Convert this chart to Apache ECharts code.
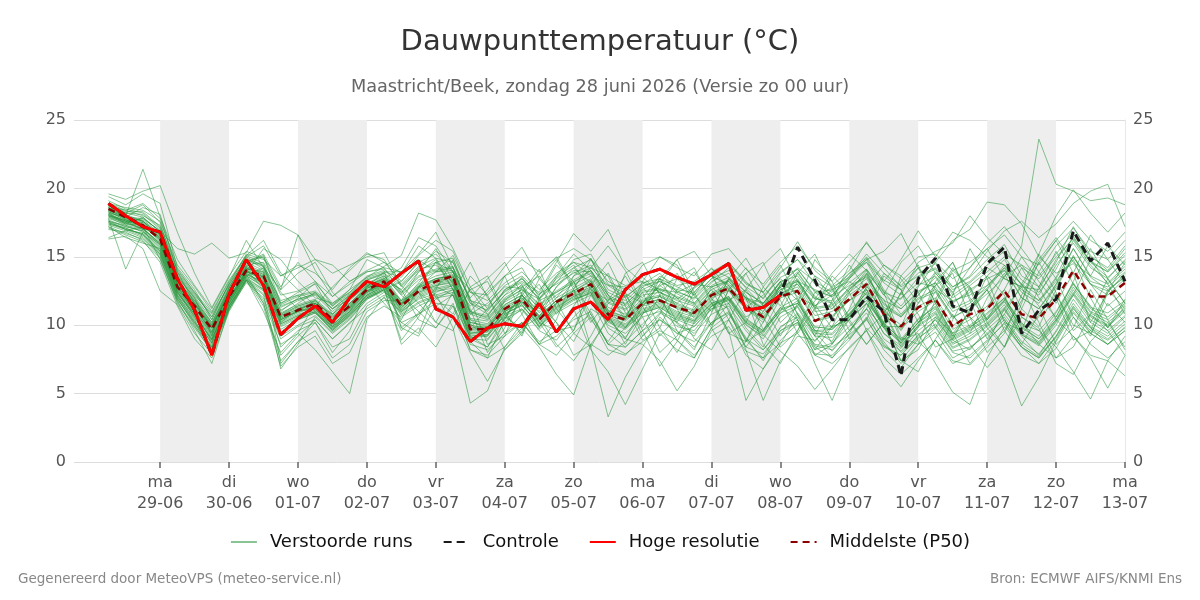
<!DOCTYPE html>
<html>
<head>
<meta charset="utf-8">
<title>Dauwpunttemperatuur</title>
<script src="https://cdn.jsdelivr.net/npm/echarts@6/dist/echarts.min.js"></script>
<style>
  html, body { margin: 0; padding: 0; background: #fff; }
  #chart { width: 1200px; height: 600px; }
</style>
</head>
<body>
<div id="chart"></div>
<script>
// day ticks at 00 uur, hours counted from ma 29-06 00:00
const dayLabels = ['ma\n29-06', 'di\n30-06', 'wo\n01-07', 'do\n02-07', 'vr\n03-07', 'za\n04-07', 'zo\n05-07',
  'ma\n06-07', 'di\n07-07', 'wo\n08-07', 'do\n09-07', 'vr\n10-07', 'za\n11-07', 'zo\n12-07', 'ma\n13-07'];
const shadedDays = [0, 2, 4, 6, 8, 10, 12];
const axisStartHour = -30;
const firstHour = -18;   // zo 28-06 06:00
const stepHours = 6;

const hiRes = [18.9, 18.0, 17.2, 16.8, 13.4, 11.1, 7.8, 12.3, 14.8, 12.9,
  9.3, 10.5, 11.4, 10.2, 12.0, 13.2, 12.8, 13.8, 14.7, 11.2,
  10.6, 8.8, 9.8, 10.1, 9.9, 11.6, 9.5, 11.2, 11.7, 10.4,
  12.6, 13.7, 14.1, 13.5, 13.0, 13.7, 14.5, 11.1, 11.3, 12.2];

const control = [18.9, 18.0, 17.2, 16.8, 13.4, 11.1, 7.8, 12.3, 14.8, 12.9,
  9.3, 10.5, 11.4, 10.2, 12.0, 13.2, 12.8, 13.8, 14.7, 11.2,
  10.6, 8.8, 9.8, 10.1, 9.9, 11.6, 9.5, 11.2, 11.7, 10.4,
  12.6, 13.7, 14.1, 13.5, 13.0, 13.7, 14.5, 11.1, 11.3, 12.2,
  15.7, 13.3, 10.4, 10.4, 12.1, 11.0, 6.3, 13.4, 14.9, 11.4,
  10.9, 14.5, 15.7, 9.4, 11.1, 11.9, 16.9, 14.7, 16.0, 13.2];

const median = [18.5, 17.9, 17.3, 16.3, 12.8, 11.4, 9.7, 12.1, 14.0, 13.6,
  10.6, 11.1, 11.6, 10.4, 11.4, 12.6, 13.2, 11.4, 12.5, 13.2,
  13.6, 9.7, 9.7, 11.2, 11.9, 10.4, 11.7, 12.3, 13.0, 10.8,
  10.4, 11.6, 11.8, 11.3, 10.9, 12.2, 12.7, 11.4, 10.6, 12.1,
  12.5, 10.3, 10.9, 11.9, 13.0, 10.8, 9.9, 11.3, 11.9, 9.9,
  10.8, 11.2, 12.5, 10.8, 10.5, 11.9, 14.0, 12.1, 12.1, 13.1];

const perturbed = [
  [18.9, 18.2, 18.8, 17.5, 13.5, 12.0, 9.2, 12.8, 14.6, 15.2, 12.8, 14.6, 13.2, 11.4, 12.6, 14.8, 14.2, 12.4, 13.9, 14.8, 12.6, 10.1, 9.0, 10.5, 12.2, 11.0, 12.8, 13.9, 13.2, 11.1, 9.8, 11.4, 12.9, 12.0, 10.5, 11.8, 13.4, 12.2, 9.7, 11.0, 13.2, 11.5, 9.8, 10.6, 12.8, 11.9, 8.9, 10.2, 12.5, 10.7, 9.4, 12.0, 13.8, 11.2, 9.9, 12.6, 15.1, 13.0, 11.4, 12.5],
  [17.6, 17.0, 16.5, 15.2, 12.1, 10.2, 8.5, 11.5, 13.6, 14.2, 11.8, 12.2, 11.0, 9.6, 10.8, 12.2, 12.9, 10.2, 9.4, 12.6, 14.8, 11.9, 8.6, 9.2, 12.4, 14.1, 11.2, 9.6, 12.9, 14.6, 12.0, 9.2, 10.8, 13.4, 14.2, 11.6, 9.4, 10.2, 12.8, 14.4, 11.9, 9.6, 8.8, 11.2, 13.8, 12.4, 9.1, 8.6, 11.9, 14.2, 12.6, 9.8, 8.4, 11.6, 15.2, 13.4, 10.6, 9.2, 12.4, 13.8],
  [19.4, 18.8, 19.6, 18.9, 14.2, 12.6, 10.4, 13.1, 15.2, 14.8, 13.6, 14.4, 13.8, 12.6, 14.2, 15.3, 14.6, 13.2, 14.6, 15.2, 13.9, 11.6, 10.8, 12.2, 13.5, 11.8, 12.4, 13.1, 14.0, 12.2, 11.5, 12.8, 13.4, 12.3, 11.6, 13.1, 14.2, 12.7, 11.4, 12.8, 13.9, 12.1, 11.2, 12.8, 14.1, 12.5, 10.8, 12.2, 13.5, 11.7, 12.4, 13.6, 14.8, 12.9, 11.8, 13.5, 16.2, 14.4, 13.1, 14.3],
  [16.4, 16.9, 17.2, 14.8, 11.8, 9.6, 7.2, 11.2, 13.4, 11.6, 7.4, 8.8, 9.6, 7.6, 8.6, 11.0, 11.8, 11.8, 13.9, 15.6, 13.2, 10.4, 9.6, 11.8, 13.0, 10.2, 8.4, 9.6, 12.2, 13.8, 11.4, 8.9, 9.8, 12.6, 13.9, 12.0, 9.4, 8.8, 11.6, 13.2, 10.8, 8.2, 9.9, 12.4, 14.0, 11.1, 8.6, 9.8, 12.9, 13.8, 10.6, 8.0, 9.4, 12.2, 14.6, 12.4, 9.6, 10.8, 13.4, 11.6],
  [18.2, 17.4, 17.9, 16.8, 13.2, 11.8, 10.2, 12.6, 14.5, 15.1, 11.6, 12.4, 13.0, 10.8, 11.9, 13.0, 13.6, 12.2, 11.0, 9.8, 11.4, 9.2, 8.4, 10.6, 12.2, 9.8, 11.6, 13.2, 10.8, 8.6, 9.8, 11.6, 13.4, 11.2, 9.0, 8.2, 10.4, 12.6, 10.6, 8.4, 9.6, 11.8, 12.8, 10.2, 8.6, 10.2, 12.4, 10.8, 8.4, 9.0, 11.2, 12.6, 10.4, 8.6, 10.8, 12.2, 10.0, 9.4, 11.6, 10.2],
  [17.2, 16.4, 16.0, 15.6, 12.4, 10.8, 8.9, 11.8, 13.8, 15.6, 14.8, 13.2, 12.0, 11.6, 12.4, 13.6, 14.0, 9.8, 10.9, 12.4, 12.9, 11.0, 12.4, 13.6, 10.8, 8.6, 10.4, 13.6, 14.9, 12.2, 10.6, 12.8, 11.2, 8.9, 7.6, 9.8, 12.6, 13.8, 11.4, 9.2, 11.6, 14.8, 13.2, 10.4, 8.6, 10.2, 13.6, 12.4, 9.8, 12.2, 15.6, 13.4, 10.2, 9.6, 12.8, 15.4, 13.0, 11.4, 9.8, 11.9],
  [18.6, 18.0, 21.4, 17.9, 14.8, 12.9, 11.2, 13.5, 16.2, 14.2, 12.6, 16.6, 14.8, 14.4, 13.2, 14.0, 14.6, 13.8, 15.8, 14.9, 13.0, 10.8, 11.6, 12.8, 12.7, 11.2, 13.5, 14.4, 12.6, 11.8, 12.6, 13.5, 12.4, 11.9, 12.8, 13.6, 12.9, 11.3, 12.2, 13.4, 12.1, 11.4, 12.6, 13.2, 12.2, 11.0, 12.0, 13.1, 12.8, 11.0, 11.6, 12.9, 14.2, 12.0, 11.2, 13.0, 15.6, 13.5, 12.6, 13.5],
  [17.8, 14.1, 16.8, 15.9, 12.6, 11.0, 9.4, 12.0, 13.9, 13.4, 10.4, 11.0, 11.8, 10.6, 11.6, 12.8, 13.3, 12.6, 10.4, 9.8, 11.6, 8.2, 7.6, 10.4, 12.8, 13.6, 11.8, 9.4, 8.4, 10.6, 13.8, 14.6, 12.2, 9.6, 8.2, 10.9, 13.4, 12.0, 8.6, 7.2, 9.6, 12.4, 11.6, 9.0, 10.4, 13.6, 12.6, 8.8, 7.6, 10.4, 12.8, 10.2, 8.4, 11.2, 13.9, 12.0, 8.9, 9.6, 12.6, 11.2],
  [19.1, 18.5, 18.2, 17.1, 13.8, 12.2, 10.8, 12.9, 14.9, 14.1, 11.4, 11.9, 12.3, 11.2, 12.2, 13.3, 13.8, 12.9, 11.6, 10.2, 12.4, 14.6, 12.0, 10.2, 11.8, 13.0, 10.8, 12.6, 14.8, 13.6, 10.9, 9.8, 12.2, 13.8, 11.6, 10.0, 12.6, 14.2, 12.4, 10.2, 11.4, 13.6, 12.0, 9.6, 11.2, 13.8, 12.6, 10.2, 11.6, 14.0, 12.8, 10.4, 11.8, 14.2, 12.0, 10.6, 13.2, 15.6, 13.4, 11.6],
  [18.0, 17.6, 17.0, 16.9, 15.6, 15.2, 16.0, 14.9, 15.3, 17.6, 17.3, 16.6, 14.0, 12.1, 13.2, 13.9, 14.2, 13.9, 14.8, 13.9, 15.1, 12.4, 11.8, 13.1, 13.9, 12.6, 13.8, 14.6, 13.6, 12.9, 12.8, 12.0, 13.6, 12.9, 13.2, 14.1, 13.5, 12.4, 11.6, 12.9, 14.2, 13.2, 12.4, 13.8, 14.6, 12.4, 11.9, 13.5, 14.1, 12.2, 13.1, 14.2, 13.4, 12.8, 12.6, 14.8, 16.4, 14.7, 13.9, 15.1],
  [17.0, 16.8, 16.2, 14.6, 11.4, 9.0, 7.6, 11.0, 13.2, 12.2, 6.8, 8.6, 10.6, 9.4, 10.4, 11.9, 12.6, 8.9, 10.6, 12.8, 13.9, 11.2, 8.0, 9.8, 12.2, 10.6, 12.8, 14.2, 13.0, 10.6, 9.0, 11.4, 12.6, 10.2, 12.4, 13.8, 11.0, 8.4, 10.2, 13.0, 11.8, 9.2, 11.8, 14.4, 12.6, 9.8, 12.4, 14.2, 11.6, 9.4, 11.0, 12.6, 9.6, 11.8, 14.6, 16.2, 13.8, 10.2, 12.4, 14.6],
  [18.4, 17.9, 18.6, 18.1, 13.9, 11.6, 9.9, 12.4, 14.4, 14.6, 12.4, 11.2, 10.9, 9.9, 11.0, 12.9, 13.4, 14.2, 16.4, 15.8, 13.9, 12.6, 13.2, 10.8, 9.4, 11.9, 13.6, 15.2, 14.0, 12.2, 10.4, 13.2, 15.0, 14.4, 12.1, 11.0, 13.4, 14.9, 12.8, 11.4, 13.8, 15.2, 12.6, 10.6, 12.8, 14.4, 13.4, 11.6, 12.9, 14.6, 12.0, 10.4, 12.6, 15.0, 13.2, 11.6, 13.8, 16.6, 14.8, 13.0],
  [18.8, 17.7, 17.6, 16.5, 12.9, 10.9, 8.8, 11.9, 14.1, 13.9, 7.2, 8.8, 10.2, 8.0, 9.6, 12.7, 13.2, 9.8, 9.2, 11.4, 12.2, 8.8, 7.6, 8.4, 9.8, 10.6, 8.6, 7.4, 9.2, 11.6, 12.4, 9.6, 7.0, 8.8, 11.2, 12.6, 10.4, 7.8, 6.8, 8.6, 10.8, 9.2, 7.6, 9.4, 11.6, 10.2, 7.4, 6.6, 9.0, 10.8, 8.6, 6.9, 8.4, 10.6, 9.8, 7.2, 6.4, 8.8, 10.2, 8.4],
  [17.4, 17.1, 16.6, 15.4, 12.2, 10.4, 8.2, 11.4, 13.5, 11.8, 8.6, 9.4, 8.2, 6.6, 5.0, 10.4, 12.1, 9.6, 10.8, 11.9, 12.6, 9.0, 8.4, 10.2, 11.2, 9.6, 8.9, 10.6, 11.8, 9.4, 8.4, 9.6, 10.9, 10.2, 9.4, 10.8, 11.4, 9.6, 8.2, 9.8, 10.9, 9.5, 8.1, 9.6, 11.2, 9.8, 8.0, 9.2, 10.4, 8.9, 8.2, 9.7, 10.8, 9.2, 7.8, 9.6, 11.9, 10.2, 9.4, 10.6],
  [18.1, 17.5, 17.8, 16.9, 13.6, 11.9, 10.1, 12.7, 15.0, 14.3, 11.0, 12.0, 13.1, 11.6, 12.6, 13.5, 14.3, 15.1, 18.2, 17.7, 15.6, 12.8, 11.2, 12.4, 13.4, 11.9, 13.1, 14.8, 15.2, 13.0, 12.3, 11.6, 12.9, 13.4, 12.2, 13.9, 14.6, 13.2, 11.9, 13.8, 14.8, 13.6, 12.8, 13.5, 15.0, 13.3, 12.6, 13.8, 14.5, 12.8, 13.5, 14.8, 15.9, 13.6, 12.8, 14.6, 17.2, 15.1, 14.0, 15.6],
  [17.9, 17.3, 17.0, 15.8, 12.5, 10.6, 8.6, 11.6, 13.7, 11.6, 7.8, 9.2, 10.4, 9.0, 10.2, 11.2, 12.0, 11.0, 11.9, 12.3, 9.8, 4.3, 5.2, 8.4, 10.2, 8.6, 7.8, 9.4, 10.6, 8.2, 7.8, 9.2, 10.4, 9.6, 8.4, 10.2, 11.0, 9.1, 7.4, 9.6, 10.4, 8.4, 7.6, 8.9, 10.6, 8.8, 7.2, 8.6, 9.8, 8.0, 7.6, 8.8, 10.2, 8.4, 7.2, 8.9, 11.2, 9.8, 8.6, 9.9],
  [18.3, 17.8, 17.4, 16.2, 13.0, 11.3, 9.5, 12.2, 14.2, 13.2, 10.2, 11.2, 11.6, 10.2, 11.5, 12.5, 13.1, 11.8, 12.4, 11.4, 10.6, 8.0, 5.9, 8.2, 9.6, 11.4, 10.2, 8.8, 11.2, 10.4, 9.1, 10.8, 11.9, 10.1, 9.2, 11.4, 12.1, 10.2, 9.4, 11.2, 11.6, 9.9, 9.7, 10.8, 12.0, 10.0, 8.8, 10.5, 11.3, 9.2, 9.9, 10.6, 11.9, 10.1, 9.6, 11.0, 13.1, 11.3, 10.9, 11.8],
  [18.7, 18.4, 18.0, 17.3, 14.1, 12.4, 10.9, 13.2, 15.0, 15.8, 13.6, 14.2, 14.8, 13.8, 14.4, 15.0, 15.3, 12.9, 14.1, 14.4, 13.1, 11.4, 12.6, 14.3, 15.7, 13.4, 12.0, 13.6, 14.2, 13.6, 12.9, 13.2, 12.6, 12.4, 13.0, 12.8, 13.2, 11.9, 11.2, 12.6, 13.2, 12.6, 12.1, 12.9, 13.5, 11.8, 11.2, 12.4, 13.1, 11.6, 12.6, 13.4, 14.0, 12.6, 11.8, 13.2, 15.0, 13.2, 12.8, 13.9],
  [18.5, 17.9, 17.1, 16.0, 12.7, 11.2, 9.6, 12.0, 13.9, 13.6, 10.5, 11.0, 11.5, 10.3, 11.3, 12.5, 13.1, 11.4, 12.8, 13.9, 14.2, 10.9, 10.6, 12.6, 13.2, 12.4, 14.6, 16.7, 15.4, 17.0, 14.2, 13.1, 12.4, 11.6, 12.7, 13.6, 13.0, 12.0, 11.6, 13.1, 14.1, 12.5, 12.1, 13.4, 14.8, 12.6, 11.4, 12.9, 13.6, 12.0, 12.9, 13.9, 15.0, 13.3, 12.4, 14.1, 16.5, 14.6, 13.5, 14.7],
  [17.7, 17.2, 16.9, 15.6, 12.3, 10.7, 9.0, 11.7, 13.8, 13.0, 10.1, 10.7, 11.2, 9.8, 10.9, 12.2, 12.8, 11.1, 12.3, 12.8, 12.2, 9.4, 9.6, 10.6, 9.8, 8.4, 6.4, 4.9, 8.6, 7.8, 8.8, 10.1, 11.2, 9.9, 9.6, 11.2, 11.9, 9.8, 8.4, 10.6, 11.3, 9.2, 9.1, 10.4, 11.6, 9.4, 8.3, 9.9, 10.8, 8.7, 9.4, 10.2, 11.5, 9.6, 8.8, 10.4, 12.6, 10.9, 10.2, 11.2],
  [18.2, 17.6, 17.2, 16.4, 12.9, 11.5, 9.8, 12.3, 14.1, 12.6, 8.4, 9.6, 10.2, 8.4, 9.0, 11.4, 12.2, 11.5, 12.7, 13.3, 13.5, 9.8, 9.9, 11.5, 12.2, 10.6, 11.8, 12.6, 8.4, 3.3, 6.2, 8.4, 10.6, 9.4, 9.9, 11.4, 12.0, 10.1, 9.0, 10.9, 11.8, 9.6, 9.4, 10.9, 12.1, 9.9, 8.7, 10.2, 11.2, 9.1, 9.8, 10.8, 12.0, 10.0, 9.2, 10.9, 13.0, 11.2, 10.6, 11.6],
  [18.6, 18.1, 17.6, 16.6, 13.1, 11.6, 9.9, 12.4, 14.3, 13.7, 10.7, 11.4, 11.8, 10.7, 11.6, 12.8, 13.4, 11.7, 12.9, 13.4, 13.7, 10.2, 9.9, 11.0, 11.8, 10.2, 9.6, 11.2, 8.2, 6.6, 4.2, 6.8, 9.4, 8.2, 7.6, 9.8, 10.8, 8.9, 7.6, 9.9, 10.6, 8.5, 8.2, 9.6, 10.9, 8.6, 7.4, 9.0, 10.1, 8.3, 8.9, 9.9, 11.1, 9.3, 8.5, 10.0, 12.2, 10.4, 9.6, 10.7],
  [17.5, 17.0, 16.7, 15.3, 12.0, 10.0, 8.0, 11.3, 13.3, 12.5, 9.3, 10.4, 10.9, 9.7, 10.6, 12.0, 12.6, 10.7, 11.6, 12.1, 12.4, 9.1, 9.2, 10.8, 11.5, 9.9, 11.0, 11.8, 12.4, 9.8, 9.0, 8.6, 7.4, 5.2, 7.0, 9.6, 10.4, 8.4, 7.9, 9.4, 10.2, 7.9, 7.8, 9.1, 10.5, 8.2, 6.9, 8.6, 9.5, 7.6, 8.3, 9.4, 10.6, 8.8, 7.9, 9.5, 11.6, 9.9, 9.2, 10.3],
  [18.0, 17.4, 17.3, 16.1, 12.6, 10.9, 9.1, 11.8, 13.9, 13.3, 10.3, 10.9, 11.4, 10.1, 11.0, 12.4, 13.0, 11.3, 12.5, 13.0, 13.3, 9.5, 9.3, 11.1, 11.7, 10.3, 11.4, 12.1, 12.7, 10.6, 10.1, 11.2, 11.6, 10.9, 10.4, 11.7, 9.6, 4.5, 6.8, 8.9, 10.1, 8.2, 8.7, 9.9, 11.2, 9.0, 8.1, 9.6, 10.6, 8.6, 9.2, 10.1, 11.3, 9.4, 8.7, 10.3, 12.4, 10.7, 10.0, 11.1],
  [18.3, 17.7, 17.4, 16.3, 12.8, 11.1, 9.3, 11.9, 13.7, 13.2, 10.4, 11.0, 11.3, 10.0, 11.2, 12.4, 12.9, 11.2, 12.4, 12.9, 13.1, 9.7, 9.6, 11.0, 11.6, 10.4, 11.5, 12.2, 12.8, 10.7, 10.3, 11.4, 11.7, 11.0, 10.6, 11.9, 11.2, 8.2, 4.5, 7.4, 9.2, 8.9, 9.9, 10.4, 11.6, 9.4, 8.5, 10.0, 10.9, 8.9, 9.6, 10.4, 11.7, 9.9, 9.0, 10.6, 12.8, 11.0, 10.4, 11.5],
  [17.9, 17.5, 17.1, 15.9, 12.5, 10.8, 9.0, 11.8, 13.8, 13.1, 10.2, 10.8, 11.2, 10.0, 11.1, 12.3, 12.9, 11.1, 12.2, 12.7, 13.0, 9.4, 9.5, 10.9, 11.4, 10.1, 11.3, 12.0, 12.5, 10.4, 9.9, 11.0, 11.4, 10.7, 10.3, 11.6, 12.0, 10.4, 9.6, 11.3, 10.4, 7.2, 4.5, 7.6, 9.8, 8.4, 7.8, 9.3, 10.4, 8.4, 9.0, 10.0, 11.2, 9.3, 8.6, 10.2, 12.3, 10.6, 9.9, 11.0],
  [17.6, 17.3, 16.8, 15.5, 12.2, 10.5, 8.7, 11.6, 13.6, 12.9, 10.0, 10.6, 11.1, 9.9, 10.8, 12.1, 12.7, 10.9, 12.0, 12.5, 12.7, 9.3, 9.2, 10.7, 11.2, 9.9, 11.1, 11.9, 12.3, 10.2, 9.7, 10.9, 11.3, 10.5, 10.1, 11.4, 11.8, 10.2, 9.3, 8.1, 7.0, 5.3, 6.8, 8.4, 9.6, 7.0, 5.5, 7.4, 8.9, 7.2, 7.8, 8.9, 10.1, 8.4, 7.6, 9.2, 11.4, 9.8, 9.0, 10.1],
  [18.1, 17.6, 17.5, 16.4, 13.0, 11.4, 9.7, 12.2, 14.2, 13.5, 10.6, 11.2, 11.6, 10.4, 11.4, 12.6, 13.1, 11.4, 12.6, 13.1, 13.4, 9.8, 9.7, 11.2, 11.9, 10.5, 11.6, 12.3, 13.0, 10.9, 10.5, 11.6, 11.9, 11.3, 10.8, 12.1, 12.6, 11.2, 10.4, 12.0, 12.4, 10.3, 10.6, 11.8, 12.6, 10.2, 8.9, 9.4, 7.2, 5.1, 4.2, 7.6, 9.9, 8.4, 7.6, 9.1, 11.0, 9.6, 8.9, 9.8],
  [18.4, 17.8, 17.7, 16.7, 13.3, 11.7, 10.0, 12.5, 14.4, 13.9, 10.9, 11.5, 11.9, 10.8, 11.8, 12.9, 13.5, 11.8, 13.0, 13.6, 13.9, 10.4, 10.1, 11.7, 12.4, 10.9, 12.0, 12.7, 13.4, 11.3, 10.8, 11.9, 12.2, 11.6, 11.1, 12.4, 12.9, 11.5, 10.8, 12.3, 12.8, 10.7, 11.0, 12.2, 13.1, 11.0, 10.0, 11.4, 12.0, 10.0, 10.6, 9.4, 7.6, 4.1, 6.2, 8.8, 10.9, 9.4, 8.6, 9.6],
  [18.8, 18.3, 18.3, 17.2, 13.9, 12.3, 10.6, 13.0, 14.8, 14.4, 11.5, 12.1, 12.4, 11.4, 12.3, 13.4, 13.8, 12.4, 13.6, 14.1, 14.3, 11.0, 10.7, 12.2, 12.9, 11.5, 12.5, 13.3, 14.0, 11.9, 11.4, 12.5, 12.7, 12.1, 11.6, 12.9, 13.5, 12.0, 11.3, 12.9, 13.3, 11.3, 11.5, 12.7, 13.7, 11.6, 10.7, 12.0, 12.6, 10.6, 11.2, 12.3, 13.5, 15.8, 23.6, 20.3, 19.8, 19.1, 19.3, 18.8],
  [18.2, 17.9, 17.8, 16.9, 13.4, 11.8, 10.0, 12.5, 14.6, 14.0, 11.1, 11.8, 12.2, 11.0, 12.0, 13.1, 13.6, 12.2, 13.3, 13.9, 14.0, 10.8, 10.4, 11.9, 12.6, 11.2, 12.2, 13.0, 13.6, 11.6, 11.1, 12.2, 12.4, 11.8, 11.4, 12.6, 13.2, 11.8, 11.0, 12.6, 13.0, 11.0, 11.2, 12.4, 13.4, 11.3, 10.6, 12.2, 13.9, 12.8, 13.6, 15.4, 16.9, 17.6, 16.4, 17.4, 18.9, 19.8, 20.3, 17.2],
  [17.3, 16.9, 16.4, 15.1, 11.9, 10.1, 8.3, 11.4, 13.4, 12.6, 9.5, 10.5, 11.0, 9.8, 10.7, 12.0, 12.6, 10.8, 11.7, 12.2, 12.6, 9.0, 8.9, 10.5, 11.1, 9.7, 10.9, 11.6, 12.2, 10.0, 9.4, 10.6, 11.0, 10.4, 9.9, 11.2, 11.6, 10.0, 9.2, 10.9, 11.4, 9.4, 9.3, 10.6, 11.8, 9.9, 9.9, 12.8, 14.6, 16.2, 17.0, 19.0, 18.8, 17.4, 15.0, 13.8, 14.5, 13.0, 12.2, 13.4],
  [18.9, 18.6, 18.4, 17.6, 14.4, 12.8, 11.0, 13.3, 15.1, 16.2, 13.8, 12.6, 11.4, 12.8, 14.0, 15.2, 14.8, 12.8, 14.0, 14.6, 14.9, 11.6, 11.1, 12.5, 13.1, 12.0, 13.4, 14.2, 14.8, 12.6, 12.0, 13.1, 13.4, 12.8, 12.2, 13.4, 14.0, 12.8, 12.0, 13.5, 14.1, 12.4, 12.6, 13.8, 14.9, 13.1, 12.2, 14.6, 15.4, 16.0, 18.0, 16.4, 15.2, 14.4, 13.6, 15.2, 16.8, 15.0, 14.2, 15.8],
  [17.1, 16.6, 16.1, 14.9, 11.6, 9.8, 8.1, 11.1, 13.3, 12.3, 9.2, 10.0, 10.7, 9.5, 10.5, 11.9, 12.5, 10.4, 12.8, 14.6, 12.6, 9.8, 11.2, 13.6, 14.2, 12.0, 9.6, 11.4, 13.2, 10.8, 8.6, 10.8, 13.4, 14.8, 12.4, 10.0, 11.6, 13.8, 14.6, 11.8, 9.4, 11.2, 13.6, 12.4, 9.6, 10.8, 13.2, 14.4, 11.6, 9.2, 11.0, 13.6, 12.2, 9.4, 10.6, 13.0, 14.8, 12.0, 9.8, 11.4],
  [18.6, 18.2, 17.9, 16.8, 13.6, 12.0, 10.2, 12.7, 14.7, 15.0, 12.6, 13.8, 14.6, 12.4, 11.2, 12.8, 13.9, 13.5, 15.1, 16.2, 15.4, 12.4, 12.2, 13.6, 14.8, 13.9, 14.9, 15.6, 14.8, 13.2, 12.6, 14.4, 15.0, 14.2, 13.6, 15.2, 15.6, 14.1, 13.0, 14.6, 15.8, 14.2, 13.2, 14.6, 16.0, 14.4, 13.6, 15.0, 15.2, 14.0, 14.6, 15.6, 16.6, 15.0, 14.4, 16.2, 17.6, 16.2, 15.4, 16.8],
  [17.5, 17.1, 16.6, 15.2, 11.9, 10.2, 8.2, 11.4, 13.3, 11.4, 7.0, 8.4, 9.2, 7.2, 8.0, 10.6, 11.4, 10.6, 11.4, 12.0, 12.2, 8.6, 8.2, 9.4, 10.2, 8.8, 9.6, 9.9, 10.8, 8.6, 7.9, 8.8, 9.6, 8.9, 7.8, 9.2, 9.9, 8.1, 7.6, 8.7, 9.4, 7.8, 7.2, 8.3, 9.6, 7.6, 6.4, 7.6, 8.9, 7.4, 7.1, 8.4, 9.6, 7.8, 7.2, 8.3, 10.6, 8.6, 7.6, 8.8],
  [18.0, 17.5, 17.0, 16.0, 12.7, 11.0, 9.2, 11.9, 13.9, 13.4, 10.4, 11.0, 11.4, 10.2, 11.2, 12.4, 13.0, 11.3, 12.4, 12.9, 13.2, 9.6, 9.5, 11.0, 11.7, 10.2, 11.3, 12.1, 12.6, 10.5, 10.0, 11.1, 11.5, 10.8, 10.3, 11.6, 12.1, 10.5, 9.6, 11.3, 12.0, 9.8, 9.9, 11.1, 12.3, 10.1, 9.0, 10.4, 11.4, 9.4, 10.0, 10.9, 12.0, 10.2, 8.6, 7.6, 9.2, 7.8, 7.4, 6.3],
  [18.5, 18.0, 17.6, 16.5, 13.2, 11.6, 9.8, 12.3, 14.2, 13.7, 10.7, 11.3, 11.7, 10.5, 11.5, 12.7, 13.3, 11.6, 12.8, 13.2, 13.5, 10.0, 9.8, 11.4, 12.0, 10.7, 11.8, 12.5, 13.2, 11.0, 10.6, 11.7, 12.1, 11.4, 10.8, 12.2, 12.7, 11.3, 10.5, 12.2, 12.6, 10.4, 10.7, 11.8, 12.9, 10.8, 9.7, 11.0, 11.8, 9.7, 10.4, 11.4, 12.6, 10.6, 9.6, 8.4, 6.6, 4.6, 7.4, 9.2],
  [17.8, 17.4, 17.1, 15.9, 12.4, 10.8, 8.9, 11.7, 13.7, 13.0, 10.1, 10.7, 11.2, 9.9, 11.0, 12.2, 12.8, 11.0, 12.1, 12.6, 12.9, 9.2, 9.3, 10.8, 11.5, 10.0, 11.2, 11.9, 12.4, 10.3, 9.8, 10.9, 11.3, 10.6, 10.2, 11.5, 11.9, 10.3, 9.5, 11.1, 11.6, 9.6, 9.7, 10.8, 12.0, 9.8, 8.7, 10.2, 11.0, 9.0, 9.7, 10.5, 11.8, 9.8, 9.0, 10.4, 9.2, 7.6, 5.4, 7.8],
  [18.7, 18.2, 18.1, 17.0, 13.7, 12.1, 10.4, 12.8, 14.7, 14.3, 11.3, 11.9, 12.3, 11.2, 12.2, 13.3, 13.7, 12.3, 13.5, 14.0, 14.2, 11.0, 10.5, 12.0, 12.8, 11.4, 12.4, 13.2, 13.8, 11.7, 11.2, 12.4, 12.6, 12.0, 11.5, 12.8, 13.3, 12.0, 11.2, 12.8, 13.2, 11.2, 11.4, 12.6, 13.6, 11.5, 10.6, 11.9, 12.4, 10.5, 11.4, 12.6, 14.2, 13.0, 15.2, 18.0, 19.9, 18.2, 16.8, 18.2],
  [18.3, 17.7, 17.5, 16.4, 13.1, 11.5, 9.8, 12.3, 14.2, 13.6, 10.8, 11.6, 12.4, 11.2, 11.9, 12.9, 13.4, 12.6, 14.2, 15.4, 14.6, 11.8, 11.0, 12.6, 13.4, 12.2, 13.6, 14.6, 14.2, 12.9, 12.1, 13.0, 13.8, 12.4, 12.0, 13.4, 14.6, 13.1, 12.4, 13.9, 14.8, 13.0, 12.2, 13.6, 15.2, 13.8, 12.9, 14.2, 14.6, 13.4, 14.2, 16.0, 17.2, 15.6, 13.9, 15.8, 17.1, 15.4, 14.8, 16.2],
  [17.6, 17.2, 16.9, 15.7, 12.4, 10.6, 8.7, 11.6, 13.6, 12.8, 9.9, 10.5, 11.0, 9.7, 10.9, 12.1, 12.7, 8.6, 9.8, 8.4, 10.6, 12.6, 10.8, 8.2, 9.4, 11.8, 10.2, 7.8, 8.6, 10.4, 12.2, 10.6, 8.0, 9.2, 11.4, 9.8, 7.6, 8.8, 11.0, 12.8, 10.4, 7.8, 8.6, 10.8, 12.4, 10.0, 7.4, 8.2, 10.6, 9.4, 7.2, 8.6, 11.2, 12.8, 10.2, 7.6, 8.4, 10.8, 9.6, 7.8],
  [18.1, 17.6, 17.3, 16.2, 12.8, 11.3, 9.5, 12.1, 14.0, 13.5, 10.5, 11.1, 11.6, 10.4, 11.4, 12.5, 13.1, 11.5, 12.7, 13.4, 13.6, 10.0, 9.7, 11.3, 12.0, 10.6, 11.6, 12.4, 13.0, 10.9, 10.4, 11.5, 11.9, 11.2, 10.7, 12.0, 12.5, 11.2, 10.2, 12.4, 13.8, 12.0, 11.6, 13.4, 14.6, 13.2, 14.8, 16.9, 15.0, 16.8, 16.2, 15.0, 14.4, 13.0, 12.2, 14.4, 16.0, 14.2, 13.4, 14.8],
  [18.4, 17.9, 17.6, 16.6, 13.2, 11.6, 9.9, 12.4, 14.3, 13.8, 10.8, 11.4, 11.8, 10.6, 11.6, 12.7, 13.2, 11.6, 12.8, 13.4, 13.6, 10.2, 10.0, 11.5, 12.2, 10.7, 11.8, 12.5, 13.3, 11.1, 10.6, 11.8, 12.1, 11.5, 11.0, 12.3, 12.8, 11.3, 10.6, 12.3, 13.0, 11.4, 12.2, 13.5, 14.8, 15.4, 16.7, 14.2, 12.6, 11.8, 12.2, 12.9, 14.0, 12.0, 11.2, 12.8, 15.0, 13.0, 12.5, 13.6],
  [18.0, 17.7, 17.2, 16.3, 12.9, 11.2, 9.4, 12.0, 14.0, 13.5, 10.6, 11.2, 11.6, 10.3, 11.3, 12.5, 13.0, 11.6, 13.1, 14.6, 13.9, 10.5, 10.3, 11.8, 12.6, 11.9, 13.2, 14.0, 13.9, 12.0, 11.6, 12.6, 13.2, 12.6, 12.4, 13.8, 14.5, 13.0, 12.4, 14.2, 16.1, 14.0, 12.9, 14.0, 16.1, 14.2, 12.8, 13.6, 14.2, 12.6, 13.2, 14.4, 15.4, 14.2, 13.4, 15.0, 16.3, 14.6, 13.9, 15.3],
  [17.2, 16.7, 16.3, 15.0, 11.7, 9.9, 8.4, 11.2, 13.3, 11.0, 8.0, 9.4, 11.6, 10.8, 12.2, 13.0, 11.6, 10.2, 10.8, 11.6, 11.4, 8.2, 7.8, 9.2, 10.2, 8.6, 9.2, 10.4, 11.0, 8.6, 8.4, 9.6, 10.4, 9.4, 8.8, 10.2, 10.9, 9.0, 8.2, 9.6, 10.2, 8.6, 8.4, 9.3, 10.4, 8.5, 7.8, 9.1, 9.9, 8.1, 8.4, 9.3, 10.4, 8.6, 7.7, 9.2, 11.3, 9.4, 8.6, 9.6],
  [19.6, 19.2, 19.8, 20.2, 16.8, 13.8, 11.3, 13.6, 15.4, 14.9, 12.2, 12.5, 13.2, 12.1, 13.0, 13.9, 14.1, 13.0, 14.3, 14.9, 14.6, 11.8, 11.4, 12.9, 13.6, 12.3, 13.0, 13.8, 14.4, 12.4, 11.8, 12.9, 13.2, 12.5, 11.9, 13.2, 13.8, 12.4, 11.6, 13.2, 13.6, 11.9, 11.8, 13.1, 14.1, 12.2, 11.2, 12.5, 13.1, 11.2, 11.8, 12.7, 14.4, 12.4, 11.6, 13.4, 15.6, 13.6, 13.0, 14.1],
  [16.3, 16.5, 15.6, 12.5, 11.5, 9.4, 7.9, 11.2, 13.1, 12.0, 9.0, 9.9, 10.4, 9.0, 10.1, 11.6, 12.4, 11.6, 12.4, 10.2, 9.6, 12.8, 13.6, 11.0, 9.2, 12.2, 14.4, 13.2, 10.4, 8.8, 10.6, 12.4, 9.8, 8.0, 10.2, 12.8, 11.6, 8.8, 9.6, 12.0, 13.4, 11.2, 8.6, 10.4, 12.6, 11.0, 8.4, 10.0, 13.2, 14.6, 11.8, 9.0, 10.8, 13.0, 11.4, 8.6, 9.8, 12.6, 10.4, 8.2],
  [18.9, 18.4, 18.9, 17.8, 14.0, 12.4, 10.6, 13.0, 15.1, 14.5, 11.6, 12.2, 12.5, 11.5, 12.4, 13.5, 13.9, 13.9, 15.2, 16.8, 14.2, 12.0, 13.4, 14.6, 12.2, 13.8, 15.0, 12.8, 14.2, 15.8, 14.0, 11.6, 13.0, 14.8, 15.4, 13.6, 11.8, 12.6, 14.4, 15.6, 13.2, 11.9, 13.8, 15.2, 14.0, 12.2, 14.6, 15.8, 13.8, 12.4, 14.2, 15.6, 13.4, 12.8, 14.8, 16.4, 14.6, 13.6, 15.8, 14.4],
  [17.4, 17.0, 16.7, 15.4, 12.1, 10.3, 8.4, 11.4, 13.5, 12.6, 9.7, 10.4, 10.9, 9.6, 10.7, 12.0, 12.6, 13.2, 14.6, 12.0, 10.8, 13.6, 12.2, 9.4, 10.8, 13.4, 14.8, 12.6, 10.2, 11.8, 13.6, 11.4, 9.2, 10.6, 12.8, 14.2, 12.6, 10.6, 11.4, 13.2, 10.8, 8.8, 10.4, 12.6, 13.8, 11.2, 9.6, 11.6, 13.8, 12.4, 9.8, 11.2, 13.6, 14.4, 12.8, 10.4, 12.2, 14.8, 13.0, 10.8]
];

const chart = echarts.init(document.getElementById('chart'));
const font = 'DejaVu Sans';

function toPoints(values) {
  return values.map((v, i) => [firstHour + i * stepHours, v]);
}

const dayHours = dayLabels.map((d, i) => i * 24);
const bands = shadedDays.map(d => [{ xAxis: d * 24 }, { xAxis: (d + 1) * 24 }]);

const runSeries = perturbed.map(run => ({
  name: 'Verstoorde runs',
  type: 'line',
  data: toPoints(run),
  symbol: 'none',
  silent: true,
  z: 3,
  lineStyle: { color: 'rgba(40,150,60,0.55)', width: 1 },
  itemStyle: { color: 'rgba(40,150,60,0.55)' }
}));

chart.setOption({
  animation: false,
  textStyle: { fontFamily: font },
  title: [
    { text: 'Dauwpunttemperatuur (°C)', left: 'center', top: 23,
      textStyle: { fontSize: 29, fontWeight: 'normal', color: '#333', fontFamily: font } },
    { text: 'Maastricht/Beek, zondag 28 juni 2026 (Versie zo 00 uur)', left: 'center', top: 73,
      textStyle: { fontSize: 17.7, fontWeight: 'normal', color: '#666', fontFamily: font } },
    { text: 'Gegenereerd door MeteoVPS (meteo-service.nl)', left: 18, top: 572, padding: 0,
      textStyle: { fontSize: 13.5, fontWeight: 'normal', color: '#888', fontFamily: font } },
    { text: 'Bron: ECMWF AIFS/KNMI Ens', right: 18, top: 572, padding: 0,
      textStyle: { fontSize: 13.5, fontWeight: 'normal', color: '#888', fontFamily: font } }
  ],
  legend: {
    data: ['Verstoorde runs', 'Controle', 'Hoge resolutie', 'Middelste (P50)'],
    left: 'center',
    top: 528,
    itemWidth: 26,
    itemHeight: 20,
    itemGap: 30,
    itemStyle: { opacity: 0 },
    textStyle: { fontSize: 18, color: '#111', fontFamily: font, padding: [0, 0, 0, 8] }
  },
  grid: { left: 74, right: 75, top: 120, bottom: 138 },
  xAxis: {
    type: 'value',
    min: axisStartHour,
    max: dayHours[dayHours.length - 1],
    axisLine: { show: false },
    splitLine: { show: false },
    axisTick: { show: true, customValues: dayHours, length: 6, lineStyle: { color: '#666', width: 1.5 } },
    axisLabel: {
      customValues: dayHours,
      formatter: v => dayLabels[Math.round(v / 24)],
      fontSize: 16, color: '#555', lineHeight: 21, margin: 10, fontFamily: font
    }
  },
  yAxis: [
    {
      type: 'value', min: 0, max: 25, interval: 5, position: 'left',
      axisLine: { show: false }, axisTick: { show: false },
      axisLabel: { fontSize: 16, color: '#555', margin: 8, fontFamily: font },
      splitLine: { lineStyle: { color: '#dddddd', width: 1 } }
    },
    {
      type: 'value', min: 0, max: 25, interval: 5, position: 'right',
      axisLine: { show: true, lineStyle: { color: '#e8e8e8' } }, axisTick: { show: false },
      axisLabel: { fontSize: 16, color: '#555', margin: 8, fontFamily: font },
      splitLine: { show: false }
    }
  ],
  series: [
    {
      name: 'shade', type: 'line', data: [], silent: true, z: 1,
      markArea: { silent: true, itemStyle: { color: '#eeeeee' }, data: bands }
    },
    ...runSeries,
    {
      name: 'Middelste (P50)', type: 'line', data: toPoints(median), symbol: 'none', z: 4,
      lineStyle: { color: '#8b0000', width: 2.5, type: [7, 5] }, itemStyle: { color: '#8b0000' }
    },
    {
      name: 'Controle', type: 'line', data: toPoints(control), symbol: 'none', z: 5,
      lineStyle: { color: '#1a1a1a', width: 3, type: [8, 5] }, itemStyle: { color: '#1a1a1a' }
    },
    {
      name: 'Hoge resolutie', type: 'line', data: toPoints(hiRes), symbol: 'none', z: 6,
      lineStyle: { color: '#ff0000', width: 3 }, itemStyle: { color: '#ff0000' }
    }
  ]
});
</script>
</body>
</html>
